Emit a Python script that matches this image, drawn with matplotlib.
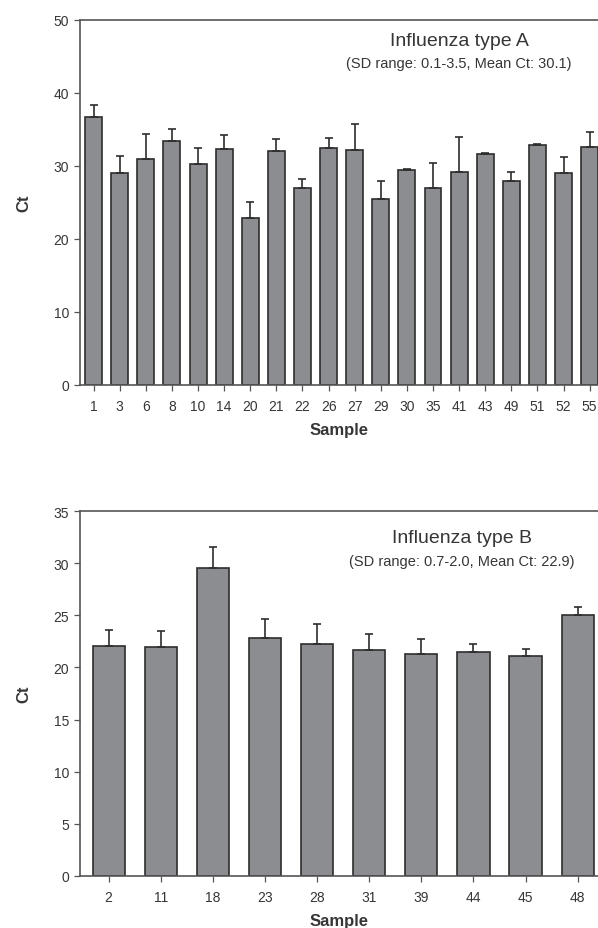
import numpy as np
import matplotlib.pyplot as plt

plt.rcParams['font.family'] = ['Liberation Sans', 'DejaVu Sans']

# Influenza type A
samples_a = ['1', '3', '6', '8', '10', '14', '20', '21', '22', '26',
             '27', '29', '30', '35', '41', '43', '49', '51', '52', '55']
ct_a = [36.7, 29.0, 31.0, 33.4, 30.2, 32.3, 22.9, 32.1, 26.9, 32.4,
        32.2, 25.4, 29.5, 27.0, 29.2, 31.6, 27.9, 32.9, 29.0, 32.6]
sd_a = [1.7, 2.3, 3.4, 1.6, 2.3, 2.0, 2.2, 1.6, 1.3, 1.4,
        3.5, 2.5, 0.1, 3.4, 4.8, 0.1, 1.3, 0.1, 2.2, 2.1]

# Influenza type B
samples_b = ['2', '11', '18', '23', '28', '31', '39', '44', '45', '48']
ct_b = [22.1, 22.0, 29.6, 22.8, 22.3, 21.7, 21.3, 21.5, 21.1, 25.0]
sd_b = [1.5, 1.5, 2.0, 1.9, 1.9, 1.5, 1.4, 0.8, 0.7, 0.8]

bar_color = '#8c8d91'
edge_color = '#2e2e2e'
text_color = '#363636'
spine_color = '#555555'

fig = plt.figure(figsize=(5.98, 9.29), dpi=100)
ax1 = fig.add_axes([0.1338, 0.5848, 0.8662, 0.3926])
ax2 = fig.add_axes([0.1338, 0.0563, 0.8662, 0.3922])


def draw_panel(ax, labels, values, sd, width, xlim, ylim, yticks,
               title, subtitle, title_x, title_y, sub_y):
    x = np.arange(len(labels))
    ax.bar(x, values, width, color=bar_color, edgecolor=edge_color, linewidth=1.2,
           yerr=[np.zeros(len(sd)), sd], capsize=3,
           error_kw=dict(ecolor=edge_color, elinewidth=1.2, capthick=1.2))
    ax.set_xlim(*xlim)
    ax.set_ylim(*ylim)
    ax.set_yticks(yticks)
    ax.set_xticks(x)
    ax.set_xticklabels(labels)
    ax.spines['right'].set_visible(False)
    for s in ['left', 'bottom', 'top']:
        ax.spines[s].set_color(spine_color)
        ax.spines[s].set_linewidth(1.2)
    ax.tick_params(direction='out', length=4, width=0.9, color=spine_color,
                   labelsize=10, labelcolor=text_color)
    ax.tick_params(axis='x', pad=6)
    ax.tick_params(axis='y', pad=4)
    ax.set_xlabel('Sample', fontsize=12, fontweight='bold', color=text_color, labelpad=7)
    ax.set_ylabel('Ct', fontsize=12, fontweight='bold', color=text_color, labelpad=16)
    ax.text(title_x, title_y, title, transform=ax.transAxes, ha='center', va='center',
            fontsize=14, color=text_color)
    ax.text(title_x, sub_y, subtitle, transform=ax.transAxes, ha='center',
            va='center', fontsize=10.5, color=text_color)


draw_panel(ax1, samples_a, ct_a, sd_a, 0.65, (-0.52, 19.32), (0, 50),
           np.arange(0, 51, 10), 'Influenza type A',
           '(SD range: 0.1-3.5, Mean Ct: 30.1)', 0.732, 0.944, 0.882)
draw_panel(ax2, samples_b, ct_b, sd_b, 0.62, (-0.55, 9.39), (0, 35),
           np.arange(0, 36, 5), 'Influenza type B',
           '(SD range: 0.7-2.0, Mean Ct: 22.9)', 0.737, 0.929, 0.864)

fig.savefig('out.png', dpi=100)
